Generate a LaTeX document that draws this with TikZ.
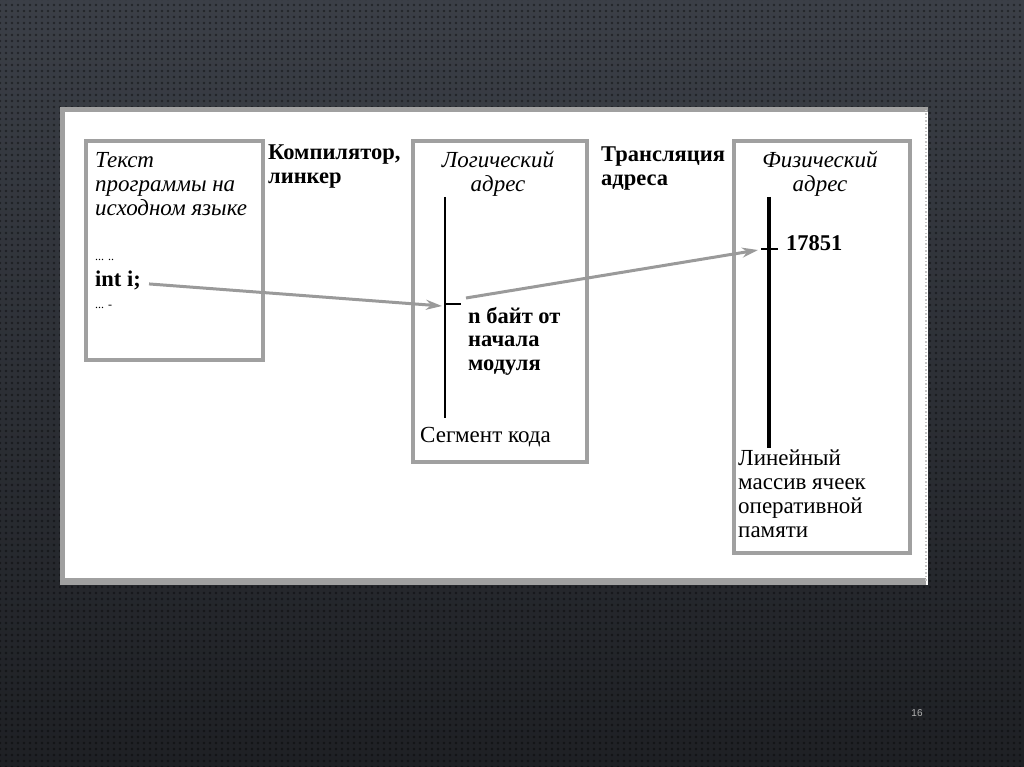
\documentclass[tikz,border=0pt]{standalone}
\usepackage{fontspec}
\setmainfont{Liberation Serif}
\newfontfamily\pagefont{Liberation Sans}
\usetikzlibrary{arrows.meta,patterns.meta}
\definecolor{bgtop}{HTML}{3B3F47}
\definecolor{bgbot}{HTML}{1E2024}
\definecolor{frame}{HTML}{A0A0A0}
\definecolor{arrowgray}{HTML}{9A9A9A}
\tikzset{
  boxframe/.style={draw=frame, line width=4pt, fill=white},
  txt/.style={inner sep=0pt, font=\fontsize{23}{24}\selectfont, align=left},
  bold/.style={txt, font=\fontsize{22.5}{23.5}\selectfont\bfseries},
  ital/.style={txt, font=\fontsize{23}{24}\selectfont\itshape},
  axis/.style={line width=2.5pt, black},
  move/.style={draw=arrowgray, line width=3pt, -{Stealth[length=16pt,width=10pt]}},
}
\begin{document}
\begin{tikzpicture}[x=1pt,y=-1pt]
\useasboundingbox (0,0) rectangle (1024,767);
\shade[top color=bgtop, bottom color=bgbot] (0,0) rectangle (1024,767);
\fill[pattern={Dots[radius=1.4pt,distance=6pt]}, pattern color=black, opacity=0.4] (0,0) rectangle (1024,767);
% panel
\fill[white] (62,109) rectangle (928,585);
\draw[frame, line width=5pt] (62,585) -- (62,110) -- (928,110);
\draw[frame, line width=7pt] (62,581) -- (926,581);
\draw[frame!60, line width=1.5pt, dotted] (926,110) -- (926,581);
% boxes
\node[boxframe, minimum width=177pt, minimum height=219pt, anchor=north west] (box1) at (84,139) {};
\node[boxframe, minimum width=174pt, minimum height=321pt, anchor=north west] (box2) at (411,139) {};
\node[boxframe, minimum width=176pt, minimum height=412pt, anchor=north west] (box3) at (732,139) {};
% box1 texts
\node[ital, anchor=north west] (src) at (95,152) {Текст\\программы на\\исходном языке};
\node[txt, anchor=base west, font=\fontsize{12}{14}\selectfont] (dots1) at (95,260) {... ..};
\node[bold, anchor=base west] (int) at (95,286) {int i;};
\node[txt, anchor=base west, font=\fontsize{12}{14}\selectfont] (dots2) at (95,308) {... -};
% middle labels
\node[bold, anchor=north west] (comp) at (268,145) {Компилятор,\\линкер};
\node[bold, anchor=north west] (trans) at (601,147) {Трансляция\\адреса};
% box2
\node[ital, anchor=north, align=center] (logh) at (498,151) {Логический\\адрес};
\coordinate (l2top) at (445,197);
\coordinate (l2bot) at (445,418);
\draw[axis] (l2top) -- (l2bot);
\coordinate (tickL) at (445,304);
\coordinate (tickR) at (461,304);
\draw[axis] (tickL) -- (tickR);
\node[bold, anchor=north west] (nbytes) at (468,307) {n байт от\\начала\\модуля};
\node[txt, anchor=base west] (seg) at (420,442) {Сегмент кода};
% box3
\node[ital, anchor=north, align=center] (phys) at (820,151) {Физический\\адрес};
\coordinate (l3top) at (769,197);
\coordinate (l3bot) at (769,448);
\draw[line width=4pt] (l3top) -- (l3bot);
\coordinate (crossL) at (761,249);
\coordinate (crossR) at (778,249);
\draw[line width=1.2pt] (crossL) -- (crossR);
\node[bold, anchor=base west] (addr) at (786,250) {17851};
\node[txt, anchor=north west] (lin) at (738,450) {Линейный\\массив ячеек\\оперативной\\памяти};
% arrows
\coordinate (a1end) at (442,306);
\coordinate (a2start) at (466,298);
\coordinate (a2end) at (758,250);
\path (int.east) ++(8,4) coordinate (a1start);
\draw[move] (a1start) -- (a1end);
\draw[move] (a2start) -- (a2end);
% page number
\node[font=\pagefont\fontsize{10}{12}\selectfont, text=gray!60] (page) at (917,713) {16};
\end{tikzpicture}
\end{document}
